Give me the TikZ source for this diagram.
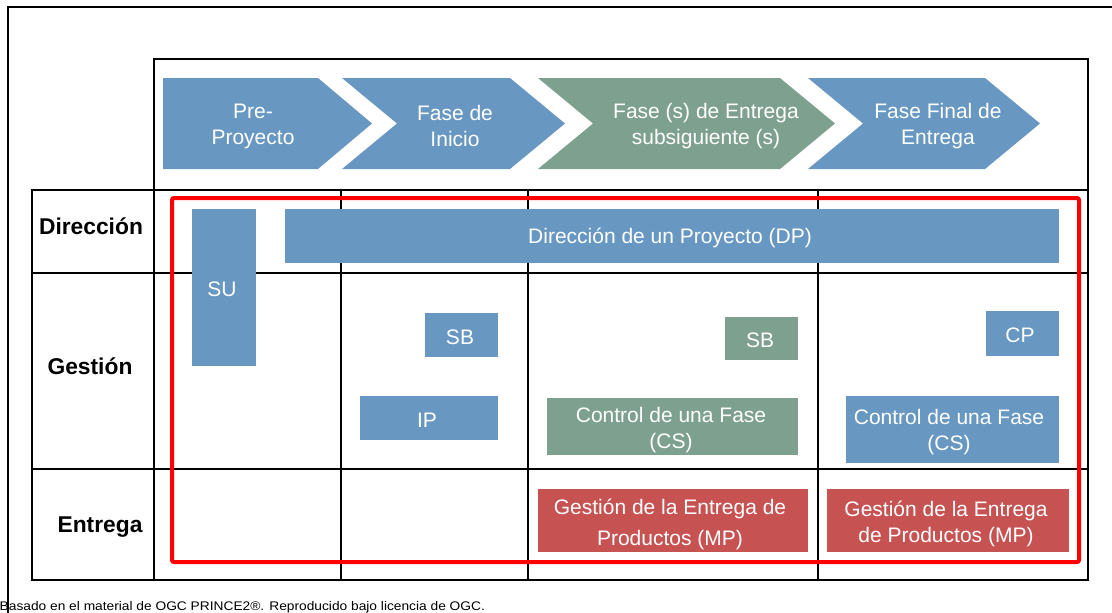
\documentclass[tikz,border=0pt]{standalone}
\usepackage{fontspec}
\setmainfont{Liberation Sans}
\definecolor{cblue}{RGB}{104,152,194}
\definecolor{cgreen}{RGB}{126,161,143}
\definecolor{cred}{RGB}{199,82,82}
\begin{document}
\begin{tikzpicture}[x=1pt,y=-1pt,
  frame/.style={draw=black,line width=1.7pt},
  bx/.style={inner sep=0pt,outer sep=0pt,text=white,align=center,
    font=\fontsize{21}{26}\selectfont},
  phase/.style={inner sep=0pt,text=white,align=center,
    font=\fontsize{21}{26}\selectfont},
  rowlabel/.style={inner sep=0pt,font=\bfseries\fontsize{22.8}{27}\selectfont},
  redframe/.style={draw=red,line width=4pt,rounded corners=2pt}]
\useasboundingbox (0,0) rectangle (1112,613);
\fill[white] (0,0) rectangle (1112,613);
% outer frame (cropped)
\draw[frame] (8,640) -- (8,7) -- (1140,7);
% phase frame
\draw[frame] (154,190) -- (154,59) -- (1088,59) -- (1088,190);
% grid
\draw[frame] (32,190) rectangle (1088,580);
\draw[frame] (32,273) -- (1088,273);
\draw[frame] (32,469) -- (1088,469);
\foreach \xx in {154,341,528,818} \draw[frame] (\xx,190) -- (\xx,580);
% chevrons
\fill[cblue] (163,78) -- (318,78) -- (372,123.5) -- (318,169) -- (163,169) -- cycle;
\fill[cblue] (342,78) -- (510,78) -- (565,123.5) -- (510,169) -- (342,169) -- (397,123.5) -- cycle;
\fill[cgreen] (538,78) -- (780,78) -- (835,123.5) -- (780,169) -- (538,169) -- (593,123.5) -- cycle;
\fill[cblue] (808,78) -- (985,78) -- (1040,123.5) -- (985,169) -- (808,169) -- (863,123.5) -- cycle;
\node[phase] (p1) at (253,126) {Pre-\\Proyecto};
\node[phase] (p2) at (455,126) {Fase de\\Inicio};
\node[phase] (p3) at (706,126) {Fase (s) de Entrega\\subsiguiente (s)};
\node[phase] (p4) at (938,126) {Fase Final de\\Entrega};
% row labels
\node[rowlabel] (ldir) at (91,226) {Dirección};
\node[rowlabel] (lges) at (90,366) {Gestión};
\node[rowlabel] (lent) at (100,527) {Entrega};
% process boxes
\fill[cblue] (192,209) rectangle (256,366);
\node[bx] (su) at (222,289) {SU};
\fill[cblue] (285,209) rectangle (1059,263);
\node[bx] (dp) at (670,238) {Dirección de un Proyecto (DP)};
\fill[cblue] (425,313) rectangle (498,357);
\node[bx] (sb1) at (460,337) {SB};
\fill[cblue] (360,396) rectangle (498,440);
\node[bx] (ip) at (427,420) {IP};
\fill[cgreen] (725,317) rectangle (798,360);
\node[bx] (sb2) at (760,340.5) {SB};
\fill[cgreen] (547,398) rectangle (798,455);
\node[bx] (cs1) at (671,430) {Control de una Fase\\(CS)};
\fill[cblue] (986,311) rectangle (1059,356);
\node[bx] (cp) at (1020,335.5) {CP};
\fill[cblue] (846,396) rectangle (1059,463);
\node[bx] (cs2) at (949,432.5) {Control de una Fase\\(CS)};
\fill[cred] (538,489) rectangle (808,552);
\node[bx,font=\fontsize{21}{31}\selectfont] (mp1) at (670,524) {Gestión de la Entrega de\\Productos (MP)};
\fill[cred] (827,489) rectangle (1069,552);
\node[bx] (mp2) at (946,524) {Gestión de la Entrega\\de Productos (MP)};
% red frame
\draw[redframe] (172,198) rectangle (1079,562);
% note
\node[anchor=base west,inner sep=0pt,font=\fontsize{12.5}{14}\selectfont] (note) at (-0.5,610.5)
  {\scalebox{1.1}[1]{Basado en el material de OGC PRINCE2®. Reproducido bajo licencia de OGC.}};
\end{tikzpicture}
\end{document}
